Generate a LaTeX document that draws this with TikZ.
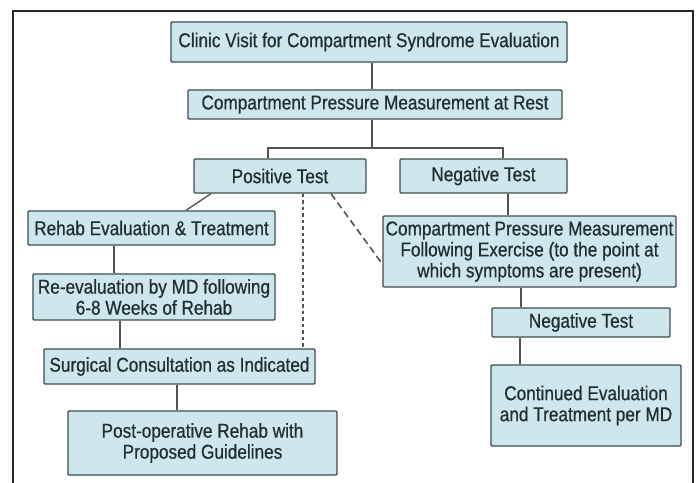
\documentclass[tikz,border=0pt]{standalone}
\usepackage{fontspec}
\setmainfont{Liberation Sans}[FakeStretch=0.86, FakeBold=0.6]
\definecolor{boxfill}{HTML}{CDE7ED}
\definecolor{boxline}{HTML}{3E4C50}
\definecolor{txt}{HTML}{1F2E31}
\definecolor{conn}{HTML}{505456}
\tikzset{
  flowbox/.style={draw=boxline, fill=boxfill, line width=1.4bp, rounded corners=1.2bp,
    inner sep=0pt, align=center, text=txt,
    font=\fontsize{20bp}{21bp}\selectfont},
  link/.style={draw=conn, line width=1.3bp},
}
\begin{document}
\begin{tikzpicture}[x=1bp, y=-1bp]
\useasboundingbox (0,0) rectangle (697,483);
\fill[white] (0,0) rectangle (697,483);
% frame
\draw[line width=2bp, draw=black!85] (13,483) -- (13,11) -- (693,11) -- (693,483);

% nodes
\node[flowbox, minimum width=396bp, minimum height=40bp] (b1) at (369,42) {Clinic Visit for Compartment Syndrome Evaluation};
\node[flowbox, minimum width=374bp, minimum height=29bp] (b2) at (375,104.5) {Compartment Pressure Measurement at Rest};
\node[flowbox, minimum width=172bp, minimum height=34bp] (pos) at (280,176) {Positive Test};
\node[flowbox, minimum width=167bp, minimum height=34bp] (neg) at (483.5,176) {Negative Test};
\node[flowbox, minimum width=247bp, minimum height=34bp] (rehab) at (151.5,228) {Rehab Evaluation \& Treatment};
\node[flowbox, minimum width=242bp, minimum height=46bp] (reeval) at (154,297) {Re-evaluation by MD following\\6-8 Weeks of Rehab};
\node[flowbox, minimum width=271bp, minimum height=35bp] (surg) at (179.5,366.5) {Surgical Consultation as Indicated};
\node[flowbox, minimum width=269bp, minimum height=64bp] (post) at (202.5,443) {Post-operative Rehab with\\Proposed Guidelines};
\node[flowbox, minimum width=293bp, minimum height=71bp] (cpm) at (529.5,251.5) {Compartment Pressure Measurement\\Following Exercise (to the point at\\which symptoms are present)};
\node[flowbox, minimum width=178bp, minimum height=29bp] (neg2) at (581,322.5) {Negative Test};
\node[flowbox, minimum width=190bp, minimum height=81bp] (cont) at (586,405.5) {Continued Evaluation\\and Treatment per MD};

% connectors
\draw[link] ([xshift=3bp]b1.south) -- ([xshift=3bp]b1.south |- b2.north);
\coordinate (split) at (372,148);
\draw[link] (split |- b2.south) -- (split);
\draw[link] ([xshift=-12bp]pos.north) |- ([xshift=19.5bp]neg.north |- split) -- ([xshift=19.5bp]neg.north);
\draw[link] ([xshift=-69bp]pos.south) -- ([xshift=34.5bp]rehab.north);
\draw[link] ([xshift=-37.5bp]rehab.south) -- ([xshift=-37.5bp]rehab.south |- reeval.north);
\draw[link] ([xshift=-34bp]reeval.south) -- ([xshift=-34bp]reeval.south |- surg.north);
\draw[link] ([xshift=-2.5bp]surg.south) -- ([xshift=-2.5bp]surg.south |- post.north);
\draw[link, line width=1.8bp, dash pattern=on 3.5bp off 3bp] ([xshift=23bp]pos.south) -- ([xshift=23bp]pos.south |- surg.north);
\draw[link, line width=1.6bp, dash pattern=on 7bp off 4bp] ([xshift=51bp]pos.south) -- ([yshift=-12.5bp]cpm.west);
\draw[link] ([xshift=24.5bp]neg.south) -- ([xshift=24.5bp]neg.south |- cpm.north);
\draw[link] ([xshift=-8.5bp]cpm.south) -- ([xshift=-8.5bp]cpm.south |- neg2.north);
\draw[link] ([xshift=-61bp]neg2.south) -- ([xshift=-61bp]neg2.south |- cont.north);
\end{tikzpicture}
\end{document}
